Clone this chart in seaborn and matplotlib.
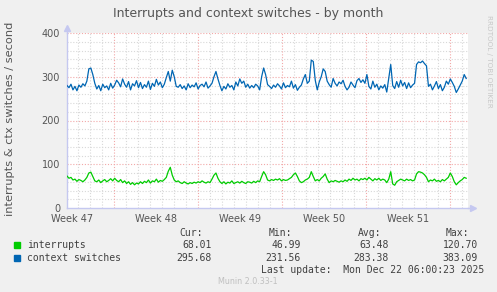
import numpy as np
import pandas as pd
import matplotlib
matplotlib.use("Agg")
import matplotlib.pyplot as plt
from matplotlib.patches import Rectangle
import seaborn as sns

# ---------------- data ----------------
title = "Interrupts and context switches - by month"
ylabel = "interrupts & ctx switches / second"
week_labels = ["Week 47", "Week 48", "Week 49", "Week 50", "Week 51"]
week_label_days = [0.42, 7.42, 14.42, 21.42, 28.42]
week_start_days = [3.92, 10.92, 17.92, 24.92, 31.92]
x_span_days = 33.4
data_end_day = 33.25
y_ticks = [0, 100, 200, 300, 400]

interrupts = [73, 68, 70, 64, 66, 61, 65, 63, 60, 64,
              70, 80, 82, 72, 62,
              60, 64, 58, 62, 65, 60, 63, 67, 62, 68,
              63, 60, 65, 58, 62, 56, 60, 54, 58, 53, 57, 55, 60, 56,
              61, 58, 64, 57, 62, 60, 66, 59, 63, 61,
              65, 70, 84, 93, 75, 64, 60,
              62, 58, 56, 60, 57, 55, 58, 56, 59, 57, 60, 58, 62, 59, 57, 60, 58,
              66, 75, 80, 68, 60,
              56, 60, 55, 59, 57, 62, 56, 58, 60, 57, 61, 58, 56, 60, 59, 57, 61, 58, 62, 60,
              72, 83, 76, 64,
              62, 65, 63, 66, 64, 67, 62, 65, 63, 64, 67, 70, 76, 80, 72, 62, 58, 60, 64, 66,
              70, 83, 72, 62, 65, 62, 68, 72, 78, 66, 58, 62, 60, 63, 61, 59, 62, 60, 64, 61,
              66, 63, 68, 64, 66, 62, 67, 65,
              68, 64, 70, 66, 62, 67, 64, 68, 63, 66, 64, 58, 66, 83, 55, 52, 60, 63, 66, 64, 62, 66, 63, 65, 62,
              64, 78, 83, 82, 80, 76, 70, 60, 64, 62, 66, 61, 63, 60, 65, 62, 66, 70, 80, 72, 60, 53, 58, 62, 65, 70, 68]

context_switches = [280, 275, 283, 270, 278, 268, 281, 276, 284, 279,
                    290, 318, 320, 305, 285,
                    272, 280, 268, 283, 275, 279, 270, 285, 274, 281,
                    292, 286, 277, 295, 283, 276, 289, 270, 284, 279, 291, 275, 287, 273,
                    282, 276, 290, 271, 285, 278, 294, 281, 288, 275,
                    283, 298, 312, 290, 315, 300, 278,
                    276, 282, 273, 279, 270, 284, 275, 281, 277, 286, 272, 280, 283, 277, 288, 274, 279,
                    285, 300, 312, 295, 280,
                    268, 278, 272, 284, 276, 280, 270, 288, 279, 295, 285, 290, 276, 283, 274, 280, 275, 283, 279, 270,
                    300, 320, 305, 282,
                    278, 273, 281, 276, 284, 279, 272, 286, 275, 280, 277, 290, 274, 282, 269, 276, 281, 295, 305, 285,
                    290, 338, 335, 292, 270, 288, 300, 318, 312, 290, 282, 276, 296, 285, 279, 288, 284, 292, 278, 270,
                    276, 288, 281, 275, 291, 296, 287, 293,
                    285, 305, 278, 272, 290, 276, 283, 270, 279, 274, 282, 265, 296, 328, 280, 273, 289, 276, 292, 279, 287, 273, 286, 275, 281,
                    285, 328, 334, 332, 336, 330, 325, 278, 283, 270, 279, 289, 273, 282, 268, 276, 290, 283, 295, 287, 278, 264, 272, 281, 290, 305, 296]

series_names = ["interrupts", "context switches"]
series_colors = ["#00CC00", "#0066B3"]
legend_cur = ["68.01", "295.68"]
legend_min = ["46.99", "231.56"]
legend_avg = ["63.48", "283.38"]
legend_max = ["120.70", "383.09"]
last_update = "Last update:  Mon Dec 22 06:00:23 2025"
munin_version = "Munin 2.0.33-1"
watermark = "RRDTOOL / TOBI OETIKER"

frames = []
for name, vals in zip(series_names, [interrupts, context_switches]):
    frames.append(pd.DataFrame({
        "day": np.linspace(0, data_end_day, len(vals)),
        "value": vals,
        "series": name,
    }))
df = pd.concat(frames, ignore_index=True)

# ---------------- figure ----------------
W, H = 497, 292
fig = plt.figure(figsize=(W / 100, H / 100), dpi=100)
fig.patch.set_facecolor("#F0F0F0")
L, R, T, B = 67, 468, 33, 208
ax = fig.add_axes([L / W, 1 - B / H, (R - L) / W, (B - T) / H])
ax.set_facecolor("white")

ax.set_xlim(0, x_span_days)
ax.set_ylim(0, 400)

minor_col = "#D8D8D8"
major_col = "#F2A8A8"
dots = (0, (1, 1.6))
# horizontal grid
for v in range(20, 401, 20):
    ax.axhline(v, color=major_col if v % 100 == 0 else minor_col,
               lw=0.8, ls=dots, zorder=1)
# vertical grid
d = week_start_days[0] - np.floor(week_start_days[0])
while d < x_span_days:
    is_major = any(abs(d - w) < 1e-6 for w in week_start_days)
    ax.axvline(d, color=major_col if is_major else minor_col, lw=0.8, ls=dots, zorder=1)
    d += 1.0

sns.lineplot(data=df, x="day", y="value", hue="series", palette=series_colors,
             hue_order=series_names, estimator=None, sort=False, lw=0.9,
             legend=False, ax=ax, zorder=3)

ax.set_xlabel("")
ax.set_ylabel("")
for s in ["top", "right"]:
    ax.spines[s].set_visible(False)
axis_col = "#C5C8F0"
for s in ["left", "bottom"]:
    ax.spines[s].set_color(axis_col)
    ax.spines[s].set_linewidth(1.0)
# axis arrows
ax.plot([0], [1.0 + 5 / 175], marker="^", ms=4, color=axis_col,
        transform=ax.transAxes, clip_on=False)
ax.plot([0, 0], [1.0, 1.0 + 5 / 175], color=axis_col, lw=1.0,
        transform=ax.transAxes, clip_on=False)
ax.plot([1.0 + 5 / 401], [0], marker=">", ms=4, color=axis_col,
        transform=ax.transAxes, clip_on=False)
ax.plot([1.0, 1.0 + 5 / 401], [0, 0], color=axis_col, lw=1.0,
        transform=ax.transAxes, clip_on=False)

ax.set_yticks(y_ticks)
ax.set_yticklabels([str(v) for v in y_ticks])
ax.set_xticks(week_label_days)
ax.set_xticklabels(week_labels)
ax.tick_params(axis="both", length=0, labelsize=7, colors="#555555")
ax.tick_params(axis="y", pad=5)
ax.tick_params(axis="x", pad=4)

txt_col = "#555555"
fig.text(248 / W, 1 - 14 / H, title, ha="center", va="center",
         fontsize=9, color=txt_col, family="DejaVu Sans")
fig.text(10 / W, 1 - 119 / H, ylabel, ha="center", va="center",
         rotation=90, fontsize=8.2, color=txt_col, family="DejaVu Sans")
fig.text(489 / W, 1 - 15 / H, watermark, ha="center", va="top",
         rotation=270, fontsize=5.2, color="#C8C8C8", family="DejaVu Sans")

mono = "DejaVu Sans Mono"
lfs = 7
lc = "#404040"
def ft(x, y, s, ha="left", **kw):
    fig.text(x / W, 1 - y / H, s, ha=ha, va="center", fontsize=kw.pop("fs", lfs),
             color=kw.pop("color", lc), family=kw.pop("family", mono), **kw)

ft(203, 233, "Cur:", ha="right")
ft(292, 233, "Min:", ha="right")
ft(381, 233, "Avg:", ha="right")
ft(469, 233, "Max:", ha="right")
rows_y = [245, 258]
for i, name in enumerate(series_names):
    y = rows_y[i]
    fig.patches.append(Rectangle((14 / W, 1 - (y + 3) / H), 6 / W, 6 / H,
                                 transform=fig.transFigure, color=series_colors[i]))
    ft(27, y, name)
    ft(212, y, legend_cur[i], ha="right")
    ft(301, y, legend_min[i], ha="right")
    ft(389, y, legend_avg[i], ha="right")
    ft(478, y, legend_max[i], ha="right")
ft(484, 270, last_update, ha="right")
ft(248, 282, munin_version, ha="center", fs=5.8, color="#C0C0C0", family="DejaVu Sans")

fig.savefig("out.png", dpi=100, facecolor=fig.get_facecolor())
